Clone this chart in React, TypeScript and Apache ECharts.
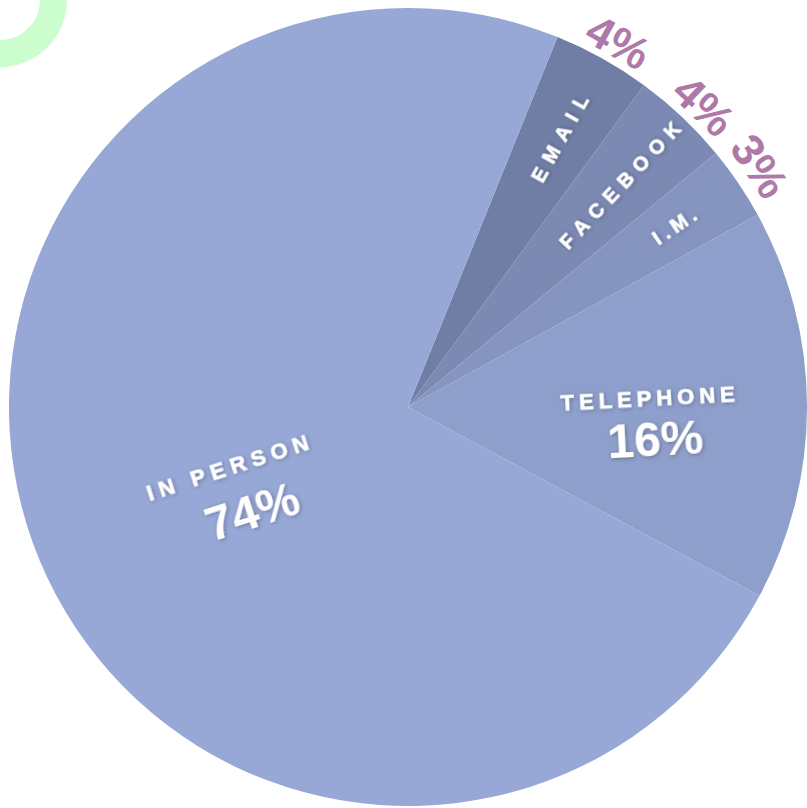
import React, { useEffect, useRef } from "react";
import * as echarts from "echarts";

const categories = ["EMAIL", "FACEBOOK", "I.M.", "TELEPHONE", "IN PERSON"];
const shares = [4, 4, 3, 16, 74];
const sliceColors = ["#707ea6", "#7b89b3", "#8694c0", "#8e9fcb", "#97a8d6"];
const smallSlices = ["EMAIL", "FACEBOOK", "I.M."];
const letterSpacing: Record<string, number> = {
  TELEPHONE: 5,
  "IN PERSON": 6,
  EMAIL: 8.5,
  FACEBOOK: 7.5,
  "I.M.": 5,
};

const FONT = "'Liberation Sans', Arial, sans-serif";
const CENTER = [408, 407];

export default function App() {
  const ref = useRef<HTMLDivElement>(null);
  useEffect(() => {
    if (!ref.current) return;
    const chart = echarts.init(ref.current, null, { renderer: "svg" });
    const shadow = {
      textShadowColor: "rgba(0,0,0,0.3)",
      textShadowBlur: 4,
      textShadowOffsetX: 1,
      textShadowOffsetY: 1,
    };
    const heavy = { textBorderColor: "#ffffff", textBorderWidth: 0.6 };
    const richFor = (nLh: number, vLh: number, vPad: number) => ({
      n: {
        color: "#ffffff",
        fontFamily: FONT,
        fontWeight: "bold",
        fontSize: 22,
        lineHeight: nLh,
        ...heavy,
        ...shadow,
      },
      v: {
        color: "#ffffff",
        fontFamily: FONT,
        fontWeight: "bold",
        fontSize: 48,
        lineHeight: vLh,
        padding: [0, 0, 0, vPad],
        ...shadow,
      },
    });
    const bigLabel: Record<string, any> = {
      TELEPHONE: { show: true, rotate: 3, rich: richFor(30, 52, 6) },
      "IN PERSON": { show: true, rotate: 18, rich: richFor(34, 64, 14) },
    };
    const mainData = categories.map((name, i) => ({
      name,
      value: shares[i],
      itemStyle: { color: sliceColors[i] },
      label: smallSlices.includes(name) ? { show: false } : bigLabel[name],
    }));
    const nameData = categories.map((name, i) => ({
      name,
      value: shares[i],
      label: { show: smallSlices.includes(name) },
    }));
    const pctData = categories.map((name, i) => ({
      name,
      value: shares[i],
      label: { show: smallSlices.includes(name) },
    }));
    chart.setOption({
      animation: false,
      graphic: [
        {
          type: "ring",
          shape: { cx: 0, cy: 0, r: 67, r0: 40 },
          style: { fill: "#ccfdcc" },
          silent: true,
        },
      ],
      series: [
        {
          type: "pie",
          center: CENTER,
          radius: [0, 399],
          startAngle: 68,
          clockwise: true,
          avoidLabelOverlap: false,
          silent: true,
          data: mainData,
          labelLine: { show: false },
          label: {
            position: "inside",
            formatter: "{n|{b}}\n{v|{c}%}",
            align: "center",
          },
          labelLayout: (p: any) => {
            if (p.dataIndex === 3) return { dx: 40, dy: 20 };
            if (p.dataIndex === 4) return { dx: 15, dy: 27 };
            return {};
          },
        },
        {
          type: "pie",
          center: CENTER,
          radius: [200, 399],
          startAngle: 68,
          clockwise: true,
          avoidLabelOverlap: false,
          silent: true,
          data: nameData,
          itemStyle: { color: "rgba(0,0,0,0)" },
          labelLine: { show: false },
          label: {
            position: "inside",
            rotate: true,
            formatter: "{b}",
            color: "#ffffff",
            fontFamily: FONT,
            fontWeight: "bold",
            fontSize: 20,
            ...heavy,
            ...shadow,
          },
          labelLayout: (p: any) => {
            if (p.dataIndex === 0) return { dx: 10, dy: 2 };
            if (p.dataIndex === 1) return { dx: 8, dy: 2 };
            if (p.dataIndex === 2) return { dx: 22, dy: 0 };
            return {};
          },
        },
        {
          type: "pie",
          center: CENTER,
          radius: [402, 448],
          startAngle: 68,
          clockwise: true,
          avoidLabelOverlap: false,
          silent: true,
          data: pctData,
          itemStyle: { color: "rgba(0,0,0,0)" },
          labelLine: { show: false },
          label: {
            position: "inside",
            rotate: "tangential",
            formatter: "{c}%",
            color: "#ae79a8",
            fontFamily: FONT,
            fontWeight: "bold",
            fontSize: 45,
          },
          labelLayout: (p: any) => {
            if (p.dataIndex === 0) return { dx: 6, dy: 7 };
            if (p.dataIndex === 1) return { dx: 8, dy: 6 };
            if (p.dataIndex === 2) return { dx: -2, dy: 2 };
            return {};
          },
        },
      ],
    });
    const applySpacing = () => {
      if (!ref.current) return;
      ref.current.querySelectorAll("text").forEach((t) => {
        const s = letterSpacing[(t.textContent || "").trim()];
        if (s) (t as SVGTextElement).style.letterSpacing = s + "px";
      });
    };
    applySpacing();
    chart.on("finished", applySpacing);
    const timer = setTimeout(applySpacing, 0);
    return () => {
      clearTimeout(timer);
      chart.dispose();
    };
  }, []);
  return (
    <div
      ref={ref}
      style={{ position: "fixed", left: 0, top: 0, width: 807, height: 808, background: "#ffffff" }}
    />
  );
}
